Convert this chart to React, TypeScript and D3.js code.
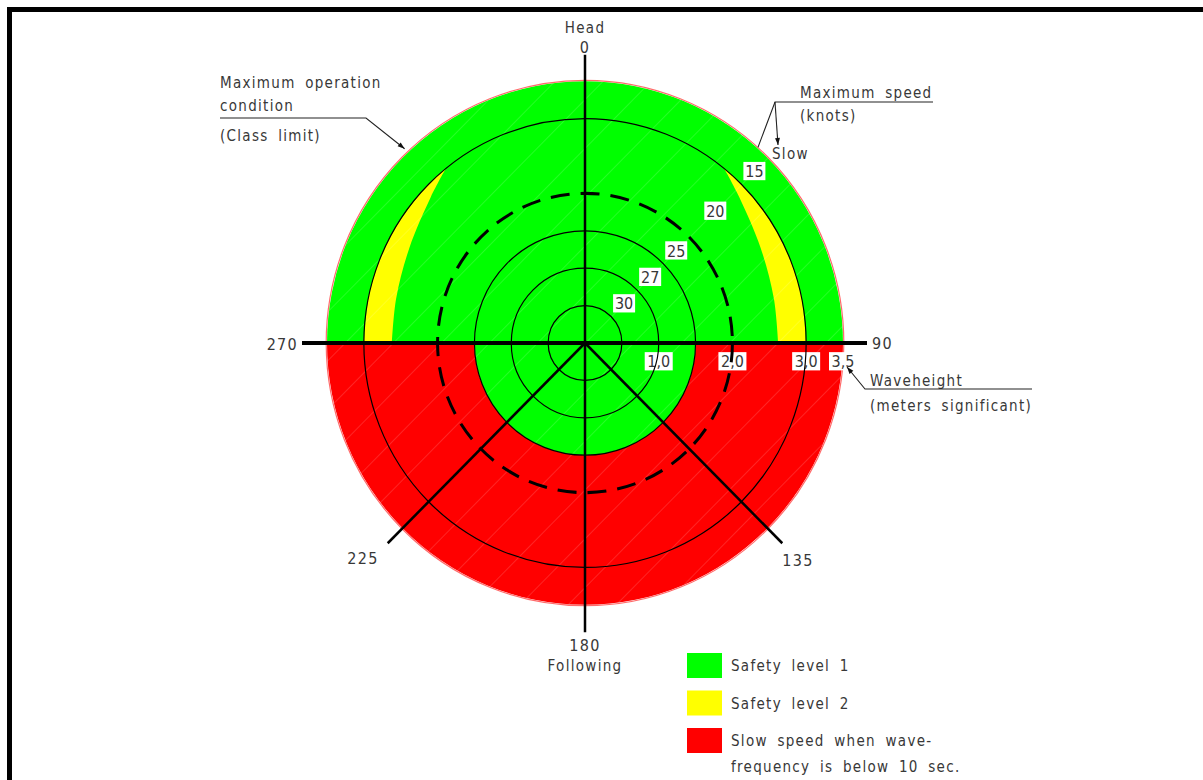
import { useEffect, useRef } from "react";
import * as d3 from "d3";

// wave height rings (meters significant)
const solidRings = [0.5, 1.0, 1.5, 3.0];
const dashedRing = 2.0;
const maxWave = 3.5;

// max speed (knots) shown between ring edges
const speedLabels = ["30", "27", "25", "20", "15"];
const speedBandEdges = [0.5, 1.0, 1.5, 2.0, 3.0, 3.5];
const speedLabelBearing = 45;

// wave height tick labels along the 90 axis
const waveTickValues = [1.0, 2.0, 3.0, 3.5];
const waveTickLabels = ["1,0", "2,0", "3,0", "3,5"];

// headings (degrees, 0 = head seas)
const headings = [0, 90, 135, 180, 225, 270];
const headingLabels = ["0", "90", "135", "180", "225", "270"];

// zone limits
const lowerSafeLimit = 1.5;
const yellowBearings = [39, 47, 62, 77, 90];
const yellowInner = [3.0, 2.86, 2.7, 2.63, 2.62];
const yellowOuter = 3.0;

const legendColors = ["#00ff00", "#ffff00", "#ff0000"];
const legendLabels = [
  ["Safety level 1"],
  ["Safety level 2"],
  ["Slow speed when wave-", "frequency is below 10 sec."],
];

const W = 1203;
const H = 780;
const cx = 585;
const cy = 343;
const yStretch = 1.015; // the drawing is a touch taller than wide
const FONT = "'DejaVu Sans Condensed', 'DejaVu Sans', sans-serif";
const INK = "#383838";

export default function App() {
  const svgRef = useRef<SVGSVGElement | null>(null);

  useEffect(() => {
    const svg = d3.select(svgRef.current);
    svg.selectAll("*").remove();

    const r = d3.scaleLinear().domain([0, maxWave]).range([0, 258]);
    const rad = (deg: number) => (deg * Math.PI) / 180;
    const polar = (deg: number, dist: number): [number, number] => [
      cx + dist * Math.sin(rad(deg)),
      cy - dist * Math.cos(rad(deg)) * yStretch,
    ];

    const defs = svg.append("defs");
    defs
      .append("marker")
      .attr("id", "arrow")
      .attr("viewBox", "0 0 10 10")
      .attr("refX", 10)
      .attr("refY", 5)
      .attr("markerWidth", 14)
      .attr("markerHeight", 7)
      .attr("markerUnits", "userSpaceOnUse")
      .attr("orient", "auto")
      .append("path")
      .attr("d", "M0,1.5 L10,5 L0,8.5 Z")
      .attr("fill", "#111");

    const hatch = defs
      .append("pattern")
      .attr("id", "hatch")
      .attr("patternUnits", "userSpaceOnUse")
      .attr("width", 34)
      .attr("height", 34)
      .attr("patternTransform", "rotate(45)");
    hatch
      .append("line")
      .attr("x1", 0)
      .attr("y1", 0)
      .attr("x2", 0)
      .attr("y2", 34)
      .attr("stroke", "#fff")
      .attr("stroke-opacity", 0.28)
      .attr("stroke-width", 1);

    // frame
    svg
      .append("rect")
      .attr("x", 9.5)
      .attr("y", 9.5)
      .attr("width", W + 100)
      .attr("height", H + 100)
      .attr("fill", "none")
      .attr("stroke", "#000")
      .attr("stroke-width", 5);

    const g = svg
      .append("g")
      .attr("transform", `translate(${cx},${cy}) scale(1,${yStretch})`);
    const arc = d3.arc<any>();

    // zones
    g.append("path")
      .attr("d", arc({ innerRadius: 0, outerRadius: r(maxWave), startAngle: rad(-90), endAngle: rad(90) }))
      .attr("fill", legendColors[0]);
    g.append("path")
      .attr("d", arc({ innerRadius: r(lowerSafeLimit), outerRadius: r(maxWave), startAngle: rad(90), endAngle: rad(270) }))
      .attr("fill", legendColors[2]);
    g.append("path")
      .attr("d", arc({ innerRadius: 0, outerRadius: r(lowerSafeLimit), startAngle: rad(90), endAngle: rad(270) }))
      .attr("fill", legendColors[0]);

    const yellowPts = yellowBearings.map((b, i) => ({ b, inner: yellowInner[i] }));
    const yellowArea = d3
      .areaRadial<{ b: number; inner: number }>()
      .angle((d) => rad(d.b))
      .innerRadius((d) => r(d.inner))
      .outerRadius(r(yellowOuter))
      .curve(d3.curveCatmullRom);
    g.append("path").attr("d", yellowArea(yellowPts)).attr("fill", legendColors[1]);
    g.append("path")
      .attr("d", yellowArea(yellowPts.map((d) => ({ b: -d.b, inner: d.inner }))))
      .attr("fill", legendColors[1]);

    g.append("circle").attr("r", r(maxWave)).attr("fill", "url(#hatch)");
    g.append("circle")
      .attr("r", r(maxWave) + 0.8)
      .attr("fill", "none")
      .attr("stroke", "#ff6b6b")
      .attr("stroke-width", 1.2);

    // wave height labels (rings cross them)
    const waveLab = g
      .selectAll(".wave")
      .data(waveTickValues)
      .enter()
      .append("g")
      .attr("transform", (d) => `translate(${r(d)},${18})`);
    waveLab
      .append("rect")
      .attr("x", -14)
      .attr("y", -9)
      .attr("width", 28)
      .attr("height", 18)
      .attr("fill", "#fff");
    waveLab
      .append("text")
      .text((_, i) => waveTickLabels[i])
      .attr("text-anchor", "middle")
      .attr("y", 6)
      .attr("font-family", FONT)
      .attr("font-size", 16)
      .attr("fill", INK);

    // rings
    g.selectAll(".ring")
      .data(solidRings)
      .enter()
      .append("circle")
      .attr("r", (d) => r(d))
      .attr("fill", "none")
      .attr("stroke", "#000")
      .attr("stroke-width", 1.2);
    g.append("circle")
      .attr("r", r(dashedRing))
      .attr("fill", "none")
      .attr("stroke", "#000")
      .attr("stroke-width", 3)
      .attr("stroke-dasharray", "19 11");

    // heading spokes
    const spokeLen: Record<number, number> = {
      0: 284,
      90: 282,
      135: 279,
      180: 285,
      225: 279,
      270: 283,
    };
    g.selectAll(".spoke")
      .data(headings)
      .enter()
      .append("line")
      .attr("x1", 0)
      .attr("y1", 0)
      .attr("x2", (d) => spokeLen[d] * Math.sin(rad(d)))
      .attr("y2", (d) => -spokeLen[d] * Math.cos(rad(d)))
      .attr("stroke", "#000")
      .attr("stroke-width", (d) => (d === 90 || d === 270 ? 4 : 2.5));

    // speed labels
    const bandMid = speedLabels.map((_, i) => (speedBandEdges[i] + speedBandEdges[i + 1]) / 2);
    const spd = g
      .selectAll(".spd")
      .data(speedLabels)
      .enter()
      .append("g")
      .attr("transform", (_, i) => {
        const d = r(bandMid[i]);
        return `translate(${d * Math.sin(rad(speedLabelBearing))},${-d * Math.cos(rad(speedLabelBearing))})`;
      });
    spd
      .append("rect")
      .attr("x", -11)
      .attr("y", -9)
      .attr("width", 22)
      .attr("height", 18)
      .attr("fill", "#fff");
    spd
      .append("text")
      .text((d) => d)
      .attr("text-anchor", "middle")
      .attr("y", 6)
      .attr("font-family", FONT)
      .attr("font-size", 16)
      .attr("fill", INK);

    // heading labels
    const headingPos: Record<number, [number, number, string]> = {
      0: [585, 53, "middle"],
      90: [872, 349, "start"],
      135: [798, 566, "middle"],
      180: [585, 651, "middle"],
      225: [363, 564, "middle"],
      270: [298, 350, "end"],
    };
    const txt = (x: number, y: number, s: string, anchor = "start", size = 15) =>
      svg
        .append("text")
        .attr("x", x)
        .attr("y", y)
        .attr("text-anchor", anchor)
        .attr("font-family", FONT)
        .attr("font-size", size)
        .attr("letter-spacing", 1.3)
        .attr("word-spacing", 4)
        .attr("fill", INK)
        .text(s);
    headings.forEach((h, i) => {
      const [x, y, a] = headingPos[h];
      txt(x, y, headingLabels[i], a, 16);
    });
    txt(585, 33, "Head", "middle");
    txt(585, 671, "Following", "middle");

    const leader = (pts: [number, number][], arrow: boolean) =>
      svg
        .append("path")
        .attr("d", d3.line()(pts))
        .attr("fill", "none")
        .attr("stroke", "#222")
        .attr("stroke-width", 1.1)
        .attr("marker-end", arrow ? "url(#arrow)" : null);

    // maximum operation condition
    txt(220, 88, "Maximum operation");
    txt(220, 111, "condition");
    txt(220, 141, "(Class limit)");
    leader([[220, 118], [366, 118], polar(-43.3, r(maxWave) + 5)], true);

    // maximum speed
    txt(800, 98, "Maximum speed");
    txt(800, 121, "(knots)");
    leader([[933, 102], [775, 102], polar(41.9, r(maxWave) + 1)], false);
    leader([[775, 102], [778, 145]], true);
    txt(772, 159, "Slow");

    // waveheight
    txt(870, 386, "Waveheight");
    txt(870, 411, "(meters significant)");
    leader([[1032, 389], [865, 389], [847, 367]], true);

    // legend
    legendColors.forEach((c, i) => {
      const y = 653 + i * 37.5;
      svg
        .append("rect")
        .attr("x", 687)
        .attr("y", y)
        .attr("width", 35)
        .attr("height", 25)
        .attr("fill", c);
      legendLabels[i].forEach((line, j) => txt(731, y + 18 + j * 26, line));
    });
  }, []);

  return (
    <svg
      ref={svgRef}
      width={W}
      height={H}
      style={{ position: "fixed", left: 0, top: 0, background: "#fff" }}
    />
  );
}
